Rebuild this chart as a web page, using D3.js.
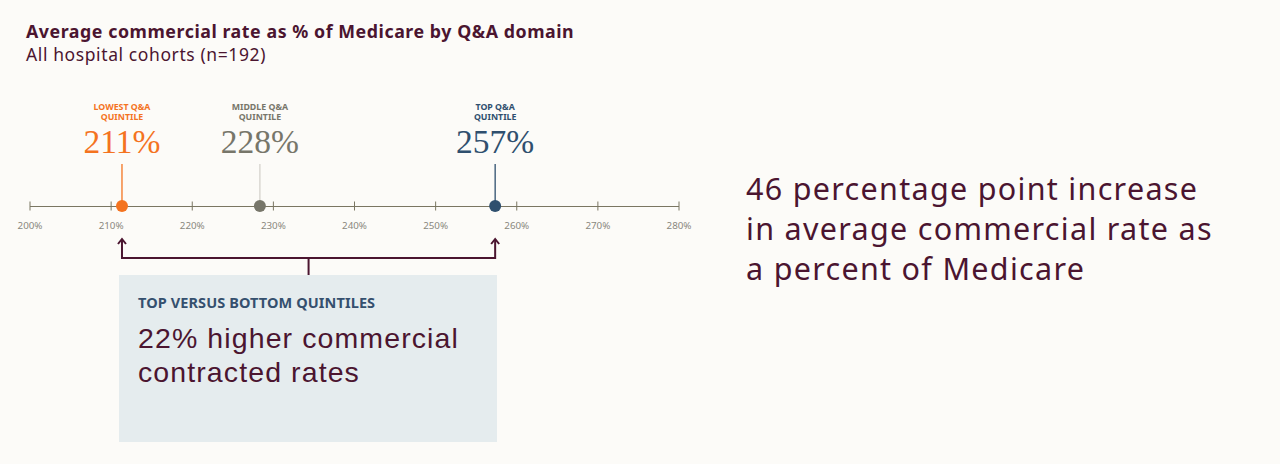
<!DOCTYPE html>
<html><head><meta charset="utf-8">
<script src="https://cdn.jsdelivr.net/npm/d3@7"></script>
<style>
html,body{margin:0;padding:0;background:#fcfbf8;}
svg{display:block;}
</style></head>
<body><svg id="chart" width="1280" height="464"></svg>
<script>
const categories = ["LOWEST Q&A|QUINTILE", "MIDDLE Q&A|QUINTILE", "TOP Q&A|QUINTILE"];
const values = [211.4, 228.4, 257.4];
const valueLabels = ["211%", "228%", "257%"];
const colors = ["#f4731f", "#77766a", "#2f4f6e"];
const stemColors = ["#f4731f", "#d4d2cc", "#2f4f6e"];
const tickValues = [200, 210, 220, 230, 240, 250, 260, 270, 280];
const title = "Average commercial rate as % of Medicare by Q&A domain";
const subtitle = "All hospital cohorts (n=192)";
const boxHeader = "TOP VERSUS BOTTOM QUINTILES";
const boxLines = ["22% higher commercial", "contracted rates"];
const sideLines = ["46 percentage point increase", "in average commercial rate as", "a percent of Medicare"];

const maroon = "#4b1530";
const sans = "'Noto Sans', 'Open Sans', sans-serif";
const svg = d3.select("#chart");
svg.append("rect").attr("width",1280).attr("height",464).attr("fill","#fcfbf8");

svg.append("text").attr("x",26).attr("y",37.7).attr("font-family",sans).attr("font-weight",700)
  .attr("font-size",17.8).attr("letter-spacing",0.55).attr("fill",maroon).text(title);
svg.append("text").attr("x",26).attr("y",61).attr("font-family",sans)
  .attr("font-size",17.5).attr("letter-spacing",0.6).attr("fill",maroon).text(subtitle);

const x = d3.scaleLinear().domain([200,280]).range([29.5,678.5]);
const axisY = 206;

const axis = d3.axisBottom(x).tickValues(tickValues).tickSize(0).tickPadding(0).tickFormat(d=>d+"%");
const g = svg.append("g").attr("transform",`translate(0,${axisY})`).call(axis);
g.select(".domain").attr("stroke","#7a7662").attr("stroke-width",1.2);
g.selectAll(".tick text").attr("font-family",sans).attr("font-size",9.8).attr("fill","#8a887e")
  .attr("dy",null).attr("y",23);
g.selectAll(".tick").append("line").attr("y1",-4.5).attr("y2",4.5).attr("stroke","#7a7662").attr("stroke-width",1);

// stems, dots, labels
const pts = svg.append("g");
values.forEach((v,i)=>{
  const cx = x(v);
  pts.append("line").attr("x1",cx).attr("x2",cx).attr("y1",164).attr("y2",axisY)
    .attr("stroke",stemColors[i]).attr("stroke-width",1.3);
  pts.append("circle").attr("cx",cx).attr("cy",axisY).attr("r",6).attr("fill",colors[i]);
  const lines = categories[i].split("|");
  const t = pts.append("text").attr("text-anchor","middle")
      .attr("font-family",sans).attr("font-weight",700).attr("font-size",8.8)
      .attr("fill",colors[i]);
  lines.forEach((l,j)=>{
    t.append("tspan").attr("x",cx).attr("y",109.5+j*10.5).text(l);
  });
  pts.append("text").attr("x",cx).attr("y",152.5).attr("text-anchor","middle")
    .attr("font-family","'Liberation Serif', 'DejaVu Serif', serif").attr("font-size",33.5)
    .attr("fill",colors[i]).text(valueLabels[i]);
});

// bracket
const xl = x(values[0]), xr = x(values[2]);
const by = 258, ty = 239;
const mid = (xl + xr)/2;
svg.append("path").attr("d",`M${xl},${ty} V${by} H${xr} V${ty}`)
  .attr("fill","none").attr("stroke",maroon).attr("stroke-width",2);
[xl,xr].forEach(px=>{
  svg.append("path").attr("d",`M${px-4},${ty+5} L${px},${ty} L${px+4},${ty+5}`)
    .attr("fill","none").attr("stroke",maroon).attr("stroke-width",2);
});
svg.append("line").attr("x1",mid).attr("x2",mid).attr("y1",by).attr("y2",275)
  .attr("stroke",maroon).attr("stroke-width",2);

// box
svg.append("rect").attr("x",119).attr("y",275).attr("width",378).attr("height",167).attr("fill","#e5ecee");
svg.append("text").attr("x",138).attr("y",307.5).attr("font-family",sans).attr("font-weight",700)
  .attr("font-size",14.5).attr("letter-spacing",0.1).attr("fill","#35506e").text(boxHeader);
const bt = svg.append("text").attr("font-family","'Liberation Sans', Arial, sans-serif").attr("font-size",28.5)
  .attr("letter-spacing",1.1).attr("fill",maroon);
boxLines.forEach((l,j)=>{
  bt.append("tspan").attr("x",138).attr("y",348.3+j*33.4).text(l);
});

const st = svg.append("text").attr("font-family",sans).attr("font-size",30.5)
  .attr("letter-spacing",1.3).attr("fill",maroon);
sideLines.forEach((l,j)=>{
  st.append("tspan").attr("x",746).attr("y",199.5+j*40.2).text(l);
});
</script>
</body></html>
